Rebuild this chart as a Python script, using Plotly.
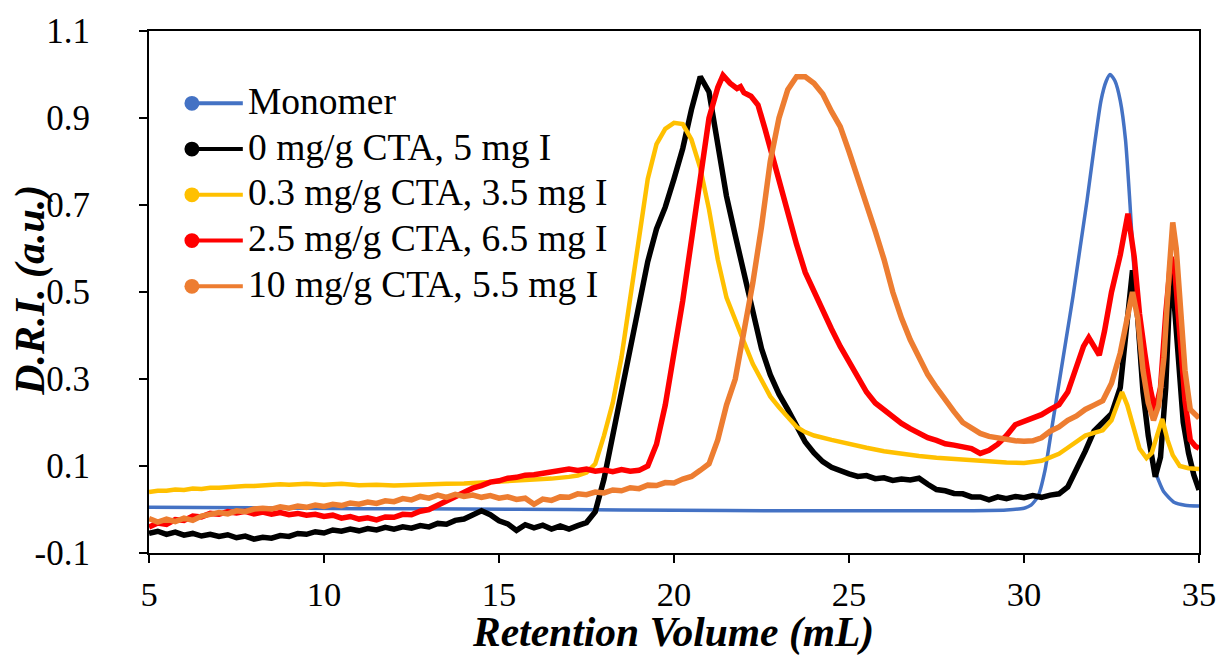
import plotly.graph_objects as go

# ---------------- data ----------------
series_names = ["Monomer", "0 mg/g CTA, 5 mg I", "0.3 mg/g CTA, 3.5 mg I",
                "2.5 mg/g CTA, 6.5 mg I", "10 mg/g CTA, 5.5 mg I"]

x_mono = [5, 8, 11, 14, 17, 20, 23, 26, 28, 29.5, 30.0, 30.2, 30.4, 30.6, 30.8, 31.0, 31.2,
          31.4, 31.6, 31.8, 32.0, 32.2, 32.35, 32.46, 32.6, 32.75, 32.9, 33.03, 33.17,
          33.34, 33.54, 33.7, 33.85, 34.0, 34.3, 34.6, 35.0]
y_mono = [0.005, 0.004, 0.002, 0.001, 0.0, -0.002, -0.003, -0.003, -0.003, -0.001, 0.003,
          0.01, 0.03, 0.09, 0.19, 0.29, 0.39, 0.49, 0.6, 0.71, 0.83, 0.94, 0.985, 1.0,
          0.985, 0.94, 0.85, 0.7, 0.514, 0.323, 0.173, 0.1, 0.066, 0.04, 0.016, 0.01, 0.008]

x_cta0 = [5.0, 5.25, 5.5, 5.75, 6.0, 6.25, 6.5, 6.75, 7.0, 7.25, 7.5, 7.75, 8.0, 8.25, 8.5,
          8.75, 9.0, 9.25, 9.5, 9.75, 10.0, 10.25, 10.5, 10.75, 11.0, 11.25, 11.5, 11.75,
          12.0, 12.25, 12.5, 12.75, 13.0, 13.25, 13.5, 13.75, 14.0, 14.25, 14.5, 14.75,
          15.0, 15.25, 15.5, 15.75, 16.0, 16.25, 16.5, 16.75, 17.0, 17.25, 17.5, 17.75,
          18.0, 18.25, 18.5, 18.75, 19.0, 19.25, 19.5, 19.75, 20.0, 20.25, 20.5, 20.75,
          21.0, 21.25, 21.5, 21.75, 22.0, 22.25, 22.5, 22.75, 23.0, 23.25, 23.5, 23.75,
          24.0, 24.25, 24.5, 24.75, 25.0, 25.25, 25.5, 25.75, 26.0, 26.25, 26.5, 26.75,
          27.0, 27.25, 27.5, 27.75, 28.0, 28.25, 28.5, 28.75, 29.0, 29.25, 29.5, 29.75,
          30.0, 30.25, 30.5, 30.75, 31.0, 31.25, 31.5, 31.75, 32.0, 32.25, 32.5, 32.75,
          32.9, 33.1, 33.25, 33.4, 33.55, 33.75, 33.9, 34.05, 34.2, 34.4, 34.55, 34.7,
          34.85, 35.0]
y_cta0 = [-0.055, -0.05, -0.057, -0.052, -0.059, -0.055, -0.061, -0.057, -0.062, -0.058,
          -0.065, -0.061, -0.068, -0.064, -0.066, -0.06, -0.062, -0.055, -0.057, -0.051,
          -0.054, -0.047, -0.05, -0.045, -0.049, -0.044, -0.047, -0.041, -0.045, -0.04,
          -0.043, -0.037, -0.04, -0.032, -0.034, -0.025, -0.022, -0.012, -0.003, -0.012,
          -0.026, -0.033, -0.048, -0.035, -0.042, -0.036, -0.045, -0.038, -0.045, -0.037,
          -0.03, -0.005, 0.07, 0.17, 0.27, 0.38, 0.47, 0.57, 0.645, 0.695, 0.76, 0.83,
          0.92, 0.995, 0.96, 0.84, 0.72, 0.63, 0.54, 0.45, 0.37, 0.31, 0.265, 0.23, 0.195,
          0.155, 0.13, 0.11, 0.097, 0.088, 0.082, 0.076, 0.078, 0.071, 0.073, 0.067, 0.07,
          0.068, 0.072, 0.058, 0.046, 0.043, 0.037, 0.036, 0.029, 0.029, 0.022, 0.029,
          0.025, 0.03, 0.027, 0.032, 0.028, 0.033, 0.036, 0.052, 0.09, 0.134, 0.18, 0.2,
          0.22, 0.28, 0.39, 0.55, 0.44, 0.27, 0.17, 0.075, 0.12, 0.28, 0.573, 0.36, 0.2,
          0.13, 0.08, 0.045]

x_cta03 = [5.0, 5.25, 5.5, 5.75, 6.0, 6.25, 6.5, 6.75, 7.0, 7.25, 7.5, 7.75, 8.0, 8.25, 8.5,
           8.75, 9.0, 9.5, 10.0, 10.5, 11.0, 11.5, 12.0, 12.5, 13.0, 13.5, 14.0, 14.5, 15.0,
           15.5, 16.0, 16.5, 17.0, 17.25, 17.5, 17.75, 18.0, 18.25, 18.5, 18.75, 19.0,
           19.25, 19.5, 19.75, 20.0, 20.25, 20.5, 20.75, 21.0, 21.25, 21.5, 21.75, 22.0,
           22.25, 22.5, 22.75, 23.0, 23.25, 23.5, 23.75, 24.0, 24.5, 25.0, 25.5, 26.0, 26.5,
           27.0, 27.5, 28.0, 28.5, 29.0, 29.5, 30.0, 30.5, 30.75, 31.0, 31.25, 31.5, 31.75,
           32.0, 32.25, 32.5, 32.65, 32.8, 32.95, 33.1, 33.3, 33.5, 33.65, 33.8, 33.95,
           34.1, 34.25, 34.45, 34.7, 35.0]
y_cta03 = [0.04, 0.043, 0.043, 0.046, 0.045, 0.048, 0.047, 0.05, 0.05, 0.052, 0.052,
           0.054, 0.054, 0.056, 0.056, 0.058, 0.057, 0.059, 0.057, 0.059, 0.056, 0.057, 0.055,
           0.057, 0.057, 0.059, 0.06, 0.062, 0.064, 0.066, 0.069, 0.071, 0.075, 0.078, 0.085,
           0.105, 0.17, 0.245, 0.35, 0.49, 0.62, 0.76, 0.84, 0.875, 0.889, 0.886, 0.85,
           0.785, 0.69, 0.575, 0.487, 0.433, 0.385, 0.335, 0.295, 0.26, 0.235, 0.212, 0.19,
           0.178, 0.17, 0.16, 0.15, 0.142, 0.134, 0.128, 0.123, 0.119, 0.116, 0.112, 0.109,
           0.108, 0.107, 0.112, 0.12, 0.128, 0.142, 0.155, 0.17, 0.176, 0.182, 0.205, 0.24,
           0.27, 0.24, 0.2, 0.14, 0.118, 0.13, 0.17, 0.208, 0.16, 0.125, 0.1, 0.095, 0.093]

x_cta25 = [5.0, 5.25, 5.5, 5.75, 6.0, 6.25, 6.5, 6.75, 7.0, 7.25, 7.5, 7.75, 8.0, 8.25, 8.5,
           8.75, 9.0, 9.25, 9.5, 9.75, 10.0, 10.25, 10.5, 10.75, 11.0, 11.25, 11.5, 11.75,
           12.0, 12.25, 12.5, 12.75, 13.0, 13.25, 13.5, 13.75, 14.0, 14.25, 14.5, 14.75,
           15.0, 15.25, 15.5, 15.75, 16.0, 16.25, 16.5, 16.75, 17.0, 17.25, 17.5, 17.75,
           18.0, 18.25, 18.5, 18.75, 19.0, 19.25, 19.5, 19.75, 20.0, 20.25, 20.5, 20.75,
           21.0, 21.25, 21.4, 21.6, 21.8, 21.9, 22.0, 22.2, 22.4, 22.6, 22.8, 23.0, 23.25,
           23.5, 23.75, 24.0, 24.25, 24.5, 24.75, 25.0, 25.25, 25.5, 25.75, 26.0, 26.25,
           26.5, 26.75, 27.0, 27.25, 27.5, 27.75, 28.0, 28.25, 28.5, 28.75, 29.0, 29.25,
           29.5, 29.75, 30.0, 30.25, 30.5, 30.75, 31.0, 31.25, 31.5, 31.7, 31.85, 32.0,
           32.15, 32.3, 32.5, 32.75, 32.97, 33.15, 33.3, 33.45, 33.6, 33.75, 33.9, 34.05,
           34.2, 34.3, 34.45, 34.6, 34.75, 34.9, 35.0]
y_cta25 = [-0.04, -0.031, -0.034, -0.023, -0.025, -0.015, -0.017, -0.009, -0.011, -0.005,
           -0.008, -0.004, -0.01, -0.006, -0.011, -0.007, -0.012, -0.009, -0.013, -0.011,
           -0.016, -0.013, -0.02, -0.016, -0.022, -0.019, -0.024, -0.017, -0.018, -0.011,
           -0.012, -0.004, 0.0, 0.01, 0.017, 0.03, 0.037, 0.049, 0.055, 0.063, 0.066, 0.072,
           0.074, 0.079, 0.08, 0.084, 0.086, 0.09, 0.093, 0.09, 0.093, 0.088, 0.091,
           0.087, 0.092, 0.088, 0.09, 0.1, 0.15, 0.24, 0.36, 0.48, 0.62, 0.77, 0.9, 0.97,
           0.998, 0.98, 0.968, 0.972, 0.958, 0.95, 0.93, 0.875, 0.815, 0.76, 0.69, 0.61,
           0.545, 0.5, 0.455, 0.415, 0.375, 0.339, 0.3, 0.27, 0.245, 0.228, 0.212, 0.198,
           0.186, 0.176, 0.165, 0.159, 0.151, 0.148, 0.143, 0.14, 0.129, 0.136, 0.15, 0.17,
           0.195, 0.203, 0.212, 0.218, 0.23, 0.241, 0.27, 0.33, 0.375, 0.395, 0.375, 0.355,
           0.41, 0.5, 0.585, 0.68, 0.58, 0.45, 0.36, 0.28, 0.225, 0.28, 0.45, 0.58, 0.56,
           0.39, 0.25, 0.16, 0.145, 0.141]

x_cta10 = [5.0, 5.25, 5.5, 5.75, 6.0, 6.25, 6.5, 6.75, 7.0, 7.25, 7.5, 7.75, 8.0, 8.25, 8.5,
           8.75, 9.0, 9.25, 9.5, 9.75, 10.0, 10.25, 10.5, 10.75, 11.0, 11.25, 11.5, 11.75,
           12.0, 12.25, 12.5, 12.75, 13.0, 13.25, 13.5, 13.75, 14.0, 14.25, 14.5, 14.75,
           15.0, 15.25, 15.5, 15.75, 16.0, 16.25, 16.5, 16.75, 17.0, 17.25, 17.5, 17.75,
           18.0, 18.25, 18.5, 18.75, 19.0, 19.25, 19.5, 19.75, 20.0, 20.25, 20.5, 20.75,
           21.0, 21.25, 21.5, 21.75, 22.0, 22.25, 22.5, 22.75, 23.0, 23.25, 23.5, 23.75,
           24.0, 24.25, 24.5, 24.75, 25.0, 25.25, 25.5, 25.75, 26.0, 26.25, 26.5, 26.75,
           27.0, 27.25, 27.5, 27.75, 28.0, 28.25, 28.5, 28.75, 29.0, 29.25, 29.5, 29.75,
           30.0, 30.25, 30.5, 30.75, 31.0, 31.25, 31.5, 31.75, 32.0, 32.25, 32.5, 32.75,
           32.95, 33.1, 33.25, 33.4, 33.55, 33.7, 33.85, 34.0, 34.15, 34.25, 34.35, 34.45,
           34.6, 34.75, 35.0]
y_cta10 = [-0.021, -0.029, -0.022, -0.028, -0.02, -0.025, -0.015, -0.012, -0.007, -0.01,
           -0.003, -0.005, 0.001, 0.003, 0.001, 0.006, 0.003, 0.008, 0.005, 0.01, 0.007,
           0.012, 0.009, 0.015, 0.012, 0.017, 0.014, 0.02, 0.018, 0.025, 0.022, 0.03,
           0.026, 0.033, 0.028, 0.035, 0.03, 0.033, 0.028, 0.032, 0.026, 0.029, 0.023,
           0.026, 0.012, 0.024, 0.021, 0.029, 0.028, 0.036, 0.034, 0.04, 0.038, 0.045, 0.043,
           0.05, 0.048, 0.056, 0.055, 0.062, 0.061, 0.07, 0.076, 0.09, 0.105, 0.16, 0.24,
           0.3, 0.41, 0.52, 0.65, 0.8, 0.9, 0.965, 0.995, 0.995, 0.98, 0.955, 0.915, 0.88,
           0.823, 0.765, 0.7, 0.64, 0.575, 0.5, 0.44, 0.39, 0.35, 0.31, 0.28, 0.25, 0.225,
           0.2, 0.186, 0.175, 0.168, 0.164, 0.16, 0.158, 0.157, 0.158, 0.165, 0.18, 0.19,
           0.205, 0.215, 0.23, 0.24, 0.25, 0.29, 0.36, 0.44, 0.5, 0.44, 0.32, 0.245, 0.205,
           0.24, 0.35, 0.55, 0.66, 0.6, 0.5, 0.32, 0.23, 0.21]

colors = ["#4472C4", "#000000", "#FFC000", "#FF0000", "#ED7D31"]
line_widths = [3.5, 5.5, 4.5, 5.5, 5.5]

x_ticks = [5, 10, 15, 20, 25, 30, 35]
y_ticks = [-0.1, 0.1, 0.3, 0.5, 0.7, 0.9, 1.1]
y_tick_text = ["-0.1", "0.1", "0.3", "0.5", "0.7", "0.9", "1.1"]

# ---------------- layout constants (pixels) ----------------
W, H = 1228, 658
M_L, M_R, M_T, M_B = 149, 27, 26, 105
PW, PH = W - M_L - M_R, H - M_T - M_B


def px_x(px):
    return (px - M_L) / PW


def px_y(py):
    return (H - M_B - py) / PH


serif = "Liberation Serif, Times New Roman, serif"

# ---------------- figure ----------------
xs = [x_mono, x_cta0, x_cta03, x_cta25, x_cta10]
ys = [y_mono, y_cta0, y_cta03, y_cta25, y_cta10]

fig = go.Figure()
for i in range(5):
    fig.add_trace(go.Scatter(
        x=xs[i], y=ys[i], mode="lines", name=series_names[i], showlegend=False,
        line=dict(color=colors[i], width=line_widths[i],
                  shape="spline" if i == 0 else "linear", smoothing=0.6),
        hoverinfo="skip"))

# legend drawn Excel-style: dot at the left end of a short line, then the label
leg_row0, leg_step = 99, 46.2
leg_dot_x, leg_line_end, leg_text_x, dot_r = 192, 243, 246, 7.5
shapes, annotations = [], []
for i, name in enumerate(series_names):
    cy = leg_row0 + i * leg_step
    shapes.append(dict(type="line", xref="paper", yref="paper",
                       x0=px_x(leg_dot_x), x1=px_x(leg_line_end), y0=px_y(cy), y1=px_y(cy),
                       line=dict(color=colors[i], width=4)))
    shapes.append(dict(type="circle", xref="paper", yref="paper",
                       x0=px_x(leg_dot_x - dot_r), x1=px_x(leg_dot_x + dot_r),
                       y0=px_y(cy + dot_r), y1=px_y(cy - dot_r),
                       fillcolor=colors[i], line=dict(width=0)))
    annotations.append(dict(text=name, xref="paper", yref="paper", x=px_x(leg_text_x),
                            y=px_y(cy - 2), xanchor="left", yanchor="middle", showarrow=False,
                            font=dict(family=serif, size=37.5, color="black")))

# y axis title
annotations.append(dict(text="<b><i>D.R.I. (a.u.)</i></b>", xref="paper", yref="paper",
                        x=px_x(30), y=px_y(288), xanchor="center", yanchor="middle",
                        textangle=-90, showarrow=False,
                        font=dict(family=serif, size=42, color="black")))

# x axis title
annotations.append(dict(text="<b><i>Retention Volume (mL)</i></b>", xref="paper",
                        yref="paper", x=px_x(674), y=px_y(633), xanchor="center",
                        yanchor="middle", showarrow=False,
                        font=dict(family=serif, size=41.5, color="black")))

fig.update_layout(
    width=W, height=H,
    paper_bgcolor="white", plot_bgcolor="white",
    margin=dict(l=M_L, r=M_R, t=M_T, b=M_B),
    font=dict(family=serif, color="black"),
    showlegend=False,
    shapes=shapes, annotations=annotations,
    xaxis=dict(range=[5, 35], tickvals=x_ticks, showgrid=False, zeroline=False,
               showline=True, linecolor="black", linewidth=2, mirror=True,
               ticks="outside", ticklen=8, tickwidth=2, tickcolor="black",
               tickfont=dict(family=serif, size=34.5, color="black"),
               ticklabelstandoff=2),
    yaxis=dict(range=[-0.1, 1.1], tickvals=y_ticks, ticktext=y_tick_text, showgrid=False,
               zeroline=False, showline=True, linecolor="black", linewidth=2, mirror=True,
               ticks="outside", ticklen=8, tickwidth=2, tickcolor="black",
               tickfont=dict(family=serif, size=35, color="black"),
               ticklabelstandoff=42),
)

fig.write_html("out.html")
